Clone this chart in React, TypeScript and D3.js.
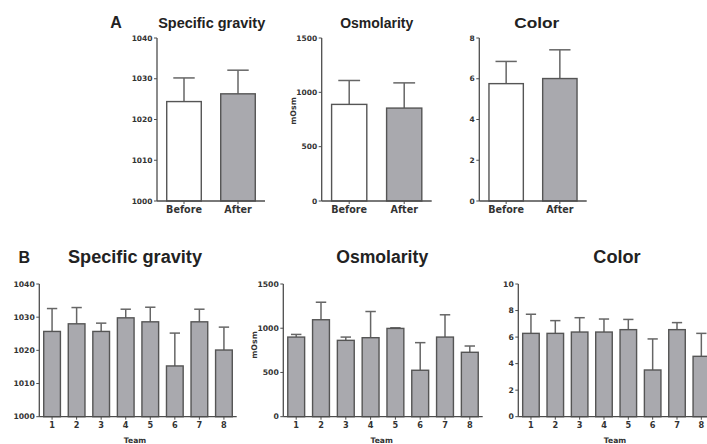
import React from "react";
import * as d3 from "d3";

const groupsA = ["Before", "After"];
const sgA = [1024.4, 1026.3];
const sgAerr = [1030.2, 1032.1];
const osmA = [889, 855];
const osmAerr = [1109, 1087];
const colA = [5.76, 6.01];
const colAerr = [6.85, 7.42];

const teams = ["1", "2", "3", "4", "5", "6", "7", "8"];
const sgB = [1025.7, 1028.0, 1025.7, 1029.8, 1028.6, 1015.3, 1028.6, 1020.1];
const sgBerr = [1032.6, 1032.9, 1028.2, 1032.4, 1033.0, 1025.2, 1032.4, 1027.0];
const osmB = [900, 1096, 863, 893, 998, 525, 900, 728];
const osmBerr = [930, 1294, 900, 1189, 1005, 837, 1152, 799];
const colB = [6.28, 6.28, 6.38, 6.38, 6.56, 3.52, 6.56, 4.55];
const colBerr = [7.72, 7.24, 7.46, 7.36, 7.33, 5.86, 7.09, 6.28];

const sgTicks = [1000, 1010, 1020, 1030, 1040];
const osmTicks = [0, 500, 1000, 1500];
const colTicksA = [0, 2, 4, 6, 8];
const colTicksB = [0, 2, 4, 6, 8, 10];

const TFONT = "'Liberation Sans', Arial, sans-serif";
const LFONT = "'DejaVu Sans', sans-serif";
const AXIS = "#4d4d4d";
const BARSTROKE = "#555";
const GREY = "#a9a9ae";
const TXT = "#333";

type PanelProps = {
  x0: number; x1: number; yTop: number; yBot: number;
  cats: string[]; vals: number[]; errs: number[]; domain: [number, number];
  ticks: number[]; fills: string[]; pi: number; po: number;
  title: string; titleX: number; titleY: number; titleSize: number; titleLen: number;
  tickSize: number; catSize: number; ylabel?: string; ylabelX?: number; ylabelY?: number;
  xlabel?: string; xlabelX?: number; xlabelY?: number;
};

function Panel(p: PanelProps) {
  const x = d3.scaleBand().domain(p.cats).range([p.x0, p.x1]).paddingInner(p.pi).paddingOuter(p.po);
  const y = d3.scaleLinear().domain(p.domain).range([p.yBot, p.yTop]);
  const bw = x.bandwidth();
  const cap = bw * 0.62;
  return (
    <g>
      <text x={p.titleX} y={p.titleY} textAnchor="middle" fontFamily={TFONT} fontWeight="bold" fontSize={p.titleSize} fill="#222" textLength={p.titleLen} lengthAdjust="spacingAndGlyphs">{p.title}</text>
      {p.cats.map((c, i) => {
        const bx = x(c) as number;
        const cx = bx + bw / 2;
        return (
          <g key={c}>
            <line x1={cx} x2={cx} y1={y(p.vals[i])} y2={y(p.errs[i])} stroke="#666" strokeWidth={1.5} />
            <line x1={cx - cap / 2} x2={cx + cap / 2} y1={y(p.errs[i])} y2={y(p.errs[i])} stroke="#666" strokeWidth={1.5} />
            <rect x={bx} y={y(p.vals[i])} width={bw} height={y(p.domain[0]) - y(p.vals[i])} fill={p.fills[i]} stroke={BARSTROKE} strokeWidth={1.4} />
            <line x1={cx} x2={cx} y1={p.yBot} y2={p.yBot + 3} stroke={AXIS} strokeWidth={1} />
            <text x={cx} y={p.yBot + 4 + p.catSize * 0.85} textAnchor="middle" fontFamily={LFONT} fontWeight="bold" fontSize={p.catSize} fill={TXT}>{c}</text>
          </g>
        );
      })}
      <line x1={p.x0} x2={p.x0} y1={p.yTop} y2={p.yBot} stroke={AXIS} strokeWidth={1.3} />
      <line x1={p.x0} x2={p.x1} y1={p.yBot} y2={p.yBot} stroke={AXIS} strokeWidth={1.3} />
      {p.ticks.map((t) => (
        <g key={t}>
          <line x1={p.x0 - 3} x2={p.x0} y1={y(t)} y2={y(t)} stroke={AXIS} strokeWidth={1} />
          <text x={p.x0 - 4.5} y={y(t) + p.tickSize * 0.36} textAnchor="end" fontFamily={LFONT} fontWeight="bold" fontSize={p.tickSize} fill={TXT}>{t}</text>
        </g>
      ))}
      {p.ylabel && (
        <text transform={`translate(${p.ylabelX},${p.ylabelY}) rotate(-90)`} textAnchor="middle" fontFamily={LFONT} fontWeight="bold" fontSize={7.8} fill={TXT}>{p.ylabel}</text>
      )}
      {p.xlabel && (
        <text x={p.xlabelX} y={p.xlabelY} textAnchor="middle" fontFamily={LFONT} fontWeight="bold" fontSize={7.6} fill={TXT}>{p.xlabel}</text>
      )}
    </g>
  );
}

export default function App() {
  const fillsA = ["#ffffff", GREY];
  const fillsB = teams.map(() => GREY);
  const commonA = { yTop: 38, yBot: 201, cats: groupsA, fills: fillsA, pi: 0.36, po: 0.18, titleY: 28.3, titleSize: 14, tickSize: 7.5, catSize: 9.6 };
  const commonB = { yTop: 284, yBot: 416.7, cats: teams, fills: fillsB, pi: 0.32, po: 0.18, titleY: 263.3, titleSize: 17.5, tickSize: 7.7, catSize: 8.2, xlabel: "Team", xlabelY: 443 };
  return (
    <svg width={707} height={444} style={{ position: "absolute", left: 0, top: 0, background: "#fff" }}>
      <rect width={707} height={444} fill="#fff" />
      <text x={116} y={28.3} textAnchor="middle" fontFamily={TFONT} fontWeight="bold" fontSize={16} fill="#222">A</text>
      <text x={24.2} y={263.3} textAnchor="middle" fontFamily={TFONT} fontWeight="bold" fontSize={16} fill="#222">B</text>
      <Panel {...commonA} x0={157} x1={265} vals={sgA} errs={sgAerr} domain={[1000, 1040]} ticks={sgTicks} title="Specific gravity" titleX={211.7} titleLen={107} />
      <Panel {...commonA} x0={321.7} x1={431.7} vals={osmA} errs={osmAerr} domain={[0, 1500]} ticks={osmTicks} title="Osmolarity" titleX={376.7} titleLen={73} ylabel="mOsm" ylabelX={295.5} ylabelY={111} />
      <Panel {...commonA} x0={479.3} x1={586.7} vals={colA} errs={colAerr} domain={[0, 8]} ticks={colTicksA} title="Color" titleX={536.7} titleLen={45} titleSize={14.5} />
      <Panel {...commonB} x0={39.3} x1={236.7} vals={sgB} errs={sgBerr} domain={[1000, 1040]} ticks={sgTicks} title="Specific gravity" titleX={135} titleLen={134} xlabelX={135} />
      <Panel {...commonB} x0={283.3} x1={482.7} vals={osmB} errs={osmBerr} domain={[0, 1500]} ticks={osmTicks} title="Osmolarity" titleX={382.2} titleLen={92} ylabel="mOsm" ylabelX={256.5} ylabelY={345} xlabelX={381.7} />
      <Panel {...commonB} x0={518.3} x1={714} vals={colB} errs={colBerr} domain={[0, 10]} ticks={colTicksB} title="Color" titleX={617} titleLen={47.3} xlabelX={615} />
    </svg>
  );
}
